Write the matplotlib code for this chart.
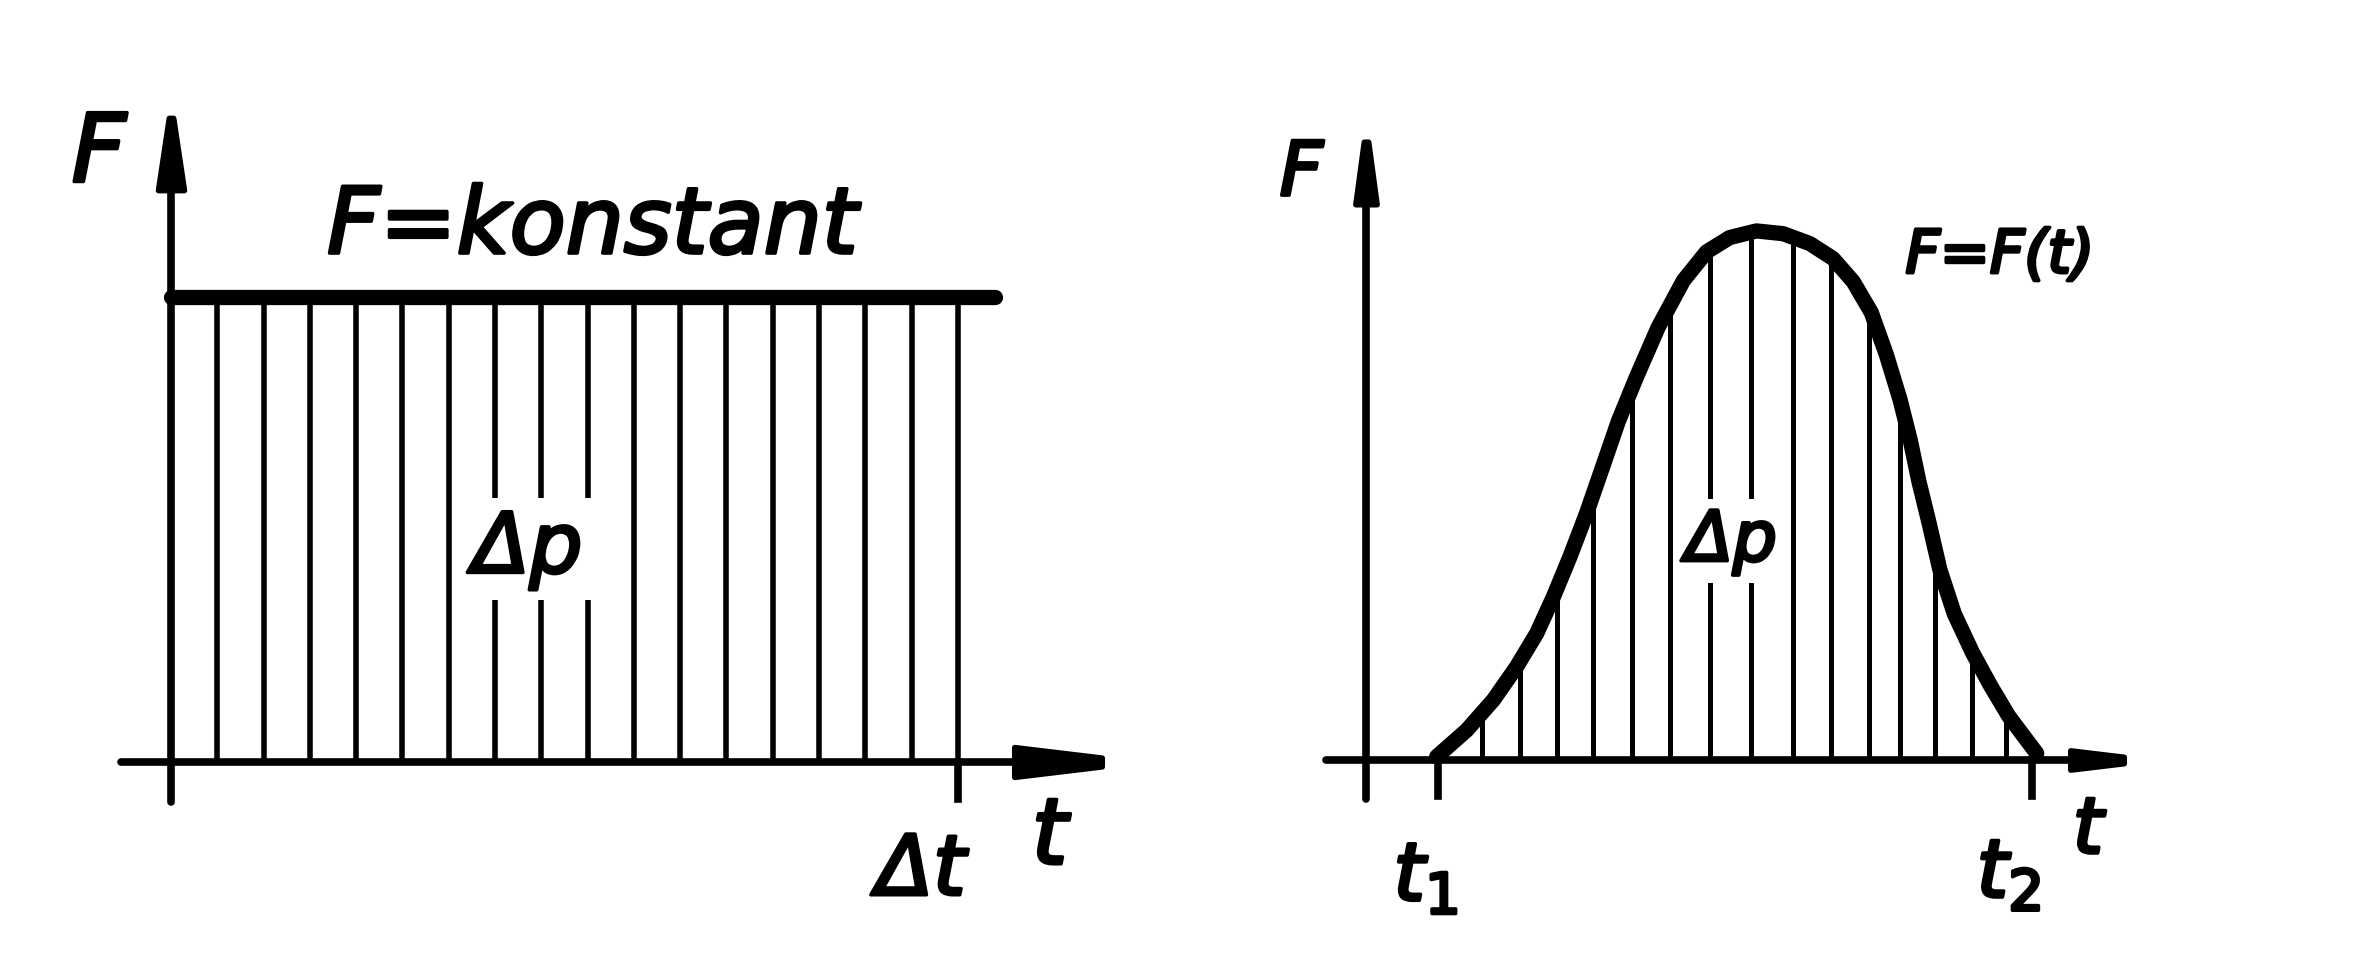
import matplotlib.pyplot as plt
import matplotlib.patheffects as pe
from matplotlib.markers import MarkerStyle
from matplotlib.path import Path

# left sketch: constant force over the interval Δt (17 strips)
const_t = list(range(1, 18))      # hatch lines, t in strip units, Δt = 17
const_F = 1.0
const_end = 17.8
dt_pos = 17

# right sketch: F = F(t)
curve_t = [0.985, 1.40, 1.77, 2.09, 2.37, 2.60, 2.83, 3.06, 3.29, 3.50, 3.75, 4.05,
           4.40, 4.72, 5.04, 5.41, 5.78, 6.15, 6.47, 6.75, 7.00, 7.21, 7.40, 7.54,
           7.66, 7.80, 7.95, 8.15, 8.40, 8.65, 8.90, 9.10, 9.29]
curve_F = [0.06, 0.54, 1.09, 1.69, 2.30, 2.96, 3.69, 4.48, 5.35, 6.15, 6.95, 7.85,
           8.70, 9.22, 9.48, 9.60, 9.55, 9.37, 9.10, 8.68, 8.12, 7.35, 6.53, 5.80,
           5.05, 4.30, 3.45, 2.65, 1.95, 1.35, 0.80, 0.45, 0.12]
hatch_t = [1.61, 2.14, 2.65, 3.15, 3.69, 4.21, 4.77, 5.33, 5.91, 6.44, 6.97, 7.40, 7.88, 8.39, 8.87]
hatch_F = [0.85, 1.80, 3.10, 4.80, 6.75, 8.25, 9.27, 9.58, 9.50, 9.13, 8.20, 6.50, 3.80, 2.00, 0.85]
t1, t2 = 1.0, 9.22

txt = dict(family='DejaVu Sans', style='oblique', color='black',
           ha='center', va='center',
           path_effects=[pe.withStroke(linewidth=2.5, foreground='black')])

AX_LW = 5.5


def arrow_head(ax, x, y, size, half_base, half_tip, vertical):
    # tapered, blunt arrow head like the hand drawing
    if vertical:
        verts = [(-half_base, -1), (half_base, -1), (half_tip, 1), (-half_tip, 1), (-half_base, -1)]
    else:
        verts = [(-1, -half_base), (-1, half_base), (1, half_tip), (1, -half_tip), (-1, -half_base)]
    m = MarkerStyle(Path(verts, closed=True), joinstyle='round')
    ax.plot([x], [y], marker=m, ms=size, mew=4, color='black', linestyle='none')


fig = plt.figure(figsize=(23.77, 9.61), dpi=100)

# ---- left panel ----
ax1 = fig.add_axes([0.033, 0.0135, 0.4479, 0.968])
ax1.set_xlim(-2, 21)
ax1.set_ylim(-0.4, 1.6)
ax1.axis('off')

ax1.vlines(const_t, 0, const_F, color='black', lw=4)
ax1.plot([0, const_end], [const_F, const_F], color='black', lw=11,
         solid_capstyle='round')
ax1.plot([dt_pos, dt_pos], [0, -0.08], color='black', lw=AX_LW)
ax1.plot([-1.07, 19.17], [0, 0], color='black', lw=AX_LW, solid_capstyle='round')
ax1.plot([0, 0], [-0.085, 1.307], color='black', lw=AX_LW, solid_capstyle='round')
arrow_head(ax1, 19.17, 0, 63, 0.34, 0.10, False)
arrow_head(ax1, 0, 1.307, 52, 0.36, 0.06, True)

ax1.text(-1.56, 1.305, 'F', fontsize=68, **txt)
ax1.text(9.1, 1.15, 'F=konstant', fontsize=66, **txt)
ax1.text(7.7, 0.458, 'Δp', fontsize=60,
         bbox=dict(facecolor='white', edgecolor='none', pad=8), **txt)
ax1.text(16.2, -0.235, 'Δt', fontsize=60, **txt)
ax1.text(18.98, -0.163, 't', fontsize=66, **txt)

# ---- right panel ----
ax2 = fig.add_axes([0.5137, 0.0085, 0.4863, 0.9175])
ax2.set_xlim(-2, 14)
ax2.set_ylim(-3.5, 12.5)
ax2.axis('off')

ax2.vlines(hatch_t, 0, hatch_F, color='black', lw=3.6)
ax2.plot(curve_t, curve_F, color='black', lw=11, solid_capstyle='round',
         solid_joinstyle='round')
ax2.plot([t1, t1], [0, -0.65], color='black', lw=AX_LW)
ax2.plot([t2, t2], [0, -0.65], color='black', lw=AX_LW)
ax2.plot([-0.55, 10.13], [0, 0], color='black', lw=AX_LW, solid_capstyle='round')
ax2.plot([0, 0], [-0.7, 10.66], color='black', lw=AX_LW, solid_capstyle='round')
arrow_head(ax2, 10.13, 0, 38.5, 0.36, 0.12, False)
arrow_head(ax2, 0, 10.66, 45, 0.34, 0.07, True)

ax2.text(-0.89, 10.63, 'F', fontsize=54, **txt)
ax2.text(8.78, 9.15, 'F=F(t)', fontsize=43, **txt)
ax2.text(5.06, 3.97, 'Δp', fontsize=50,
         bbox=dict(facecolor='white', edgecolor='none', pad=6), **txt)
ax2.text(10.0, -1.29, 't', fontsize=56, **txt)
ax2.text(0.83, -2.16, '$t_1$', fontsize=58, **txt)
ax2.text(8.9, -2.1, '$t_2$', fontsize=58, **txt)

fig.savefig('out.png', dpi=100, facecolor='white')
